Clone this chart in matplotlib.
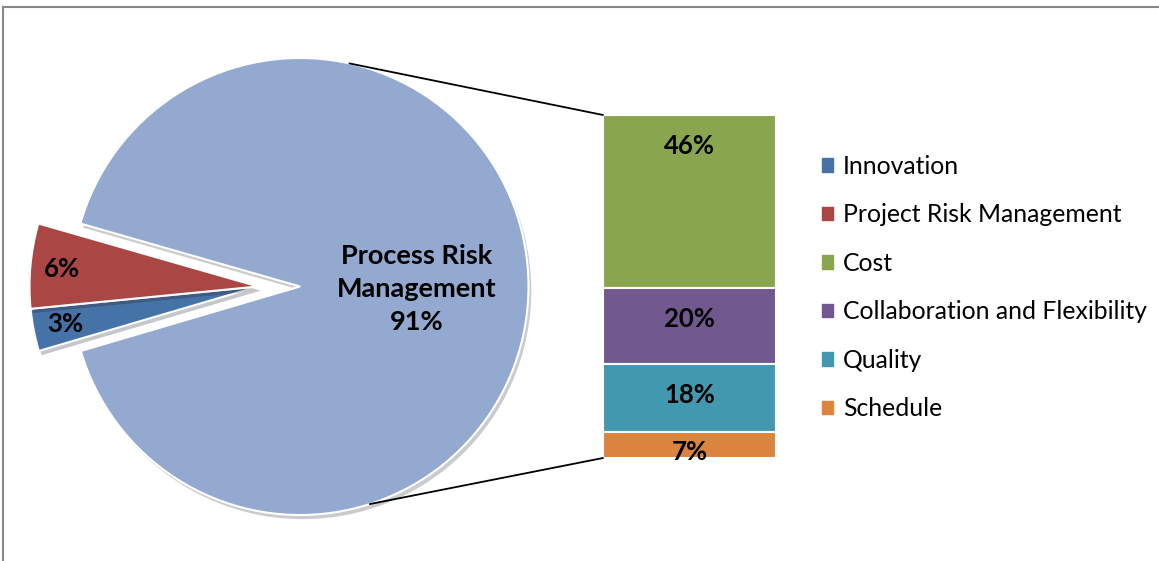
import matplotlib
matplotlib.use("Agg")
import matplotlib.pyplot as plt
import matplotlib.patheffects as pe
from matplotlib.patches import Patch, ConnectionPatch
from matplotlib.lines import Line2D
import numpy as np

# pie data
pie_labels = ["Innovation", "Project Risk Management", "Process Risk Management"]
pie_values = [3, 6, 91]
pie_colors = ["#4572A7", "#AA4643", "#93A9CF"]

# breakdown of process risk management
bar_labels = ["Cost", "Collaboration and Flexibility", "Quality", "Schedule"]
bar_values = [46, 20, 18, 7]
bar_colors = ["#89A54E", "#71588F", "#4198AF", "#DB843D"]

W, H = 1159, 561
plt.rcParams['font.family'] = ['Lato', 'DejaVu Sans']
fig = plt.figure(figsize=(W / 100, H / 100), dpi=100)

ax = fig.add_axes([0, 0, 1, 1])
cx, cy, r = 300, 274.5, 228.5
shadow = [pe.SimplePatchShadow(offset=(2, -3), alpha=0.25), pe.Normal()]

wedges, texts, autotexts = ax.pie(
    pie_values, colors=pie_colors,
    startangle=196.4, counterclock=False, center=(cx, cy), radius=r,
    autopct='%.0f%%', pctdistance=0.86,
    wedgeprops=dict(edgecolor='white', linewidth=1.5),
    textprops=dict(fontsize=18.5, fontweight='bold', color='black'))
# pull the two small slices out together, to the left
shift = 42
for i in [0, 1]:
    wx, wy = wedges[i].center
    wedges[i].set_center((wx - shift, wy))
    tx, ty = autotexts[i].get_position()
    autotexts[i].set_position((tx - shift, ty))
for w in wedges:
    w.set_path_effects(shadow)
autotexts[2].set_text("Process Risk\nManagement\n91%")
autotexts[2].set_position((cx + 0.51 * r, cy - 2))
autotexts[2].set_fontsize(19.5)
autotexts[2].set_linespacing(1.45)
ax.set_xlim(0, W)
ax.set_ylim(0, H)
ax.set_aspect('equal')
ax.axis('off')

# stacked bar
bx = fig.add_axes([603 / W, (H - 458) / H, (776 - 603) / W, 343 / H])
bottom = sum(bar_values)
label_frac = [0.82, 0.6, 0.54, 0.23]
for lab, v, c, f in zip(bar_labels, bar_values, bar_colors, label_frac):
    bottom -= v
    b = bx.bar(0, v, bottom=bottom, width=1, color=c, edgecolor='white', linewidth=1.5)
    b[0].set_path_effects(shadow)
    bx.text(0, bottom + f * v, f"{v}%", ha='center', va='center',
            fontsize=18.5, fontweight='bold')
bx.set_xlim(-0.5, 0.5)
bx.set_ylim(0, sum(bar_values))
bx.axis('off')

# connector lines
for ang, yv in [(77.5, sum(bar_values)), (-72.2, 0)]:
    px = cx + r * np.cos(np.radians(ang))
    py = cy + r * np.sin(np.radians(ang))
    con = ConnectionPatch(xyA=(px, py), coordsA=ax.transData,
                          xyB=(-0.5, yv), coordsB=bx.transData,
                          color='black', linewidth=1.3)
    fig.add_artist(con)

# legend
handles = [Patch(color=pie_colors[i], label=pie_labels[i]) for i in [0, 1]]
handles += [Patch(color=c, label=l) for c, l in zip(bar_colors, bar_labels)]
fig.legend(handles=handles, loc='upper left', bbox_to_anchor=(812 / W, 1 - 145 / H),
           frameon=False, fontsize=17.8, handlelength=0.45, handleheight=0.45,
           handletextpad=0.4, labelspacing=1.03, borderaxespad=0)

# outer border (top and left)
fig.add_artist(Line2D([3 / W, 3 / W], [0, 1 - 7 / H], transform=fig.transFigure,
                      color='#888888', linewidth=1.5))
fig.add_artist(Line2D([3 / W, 1], [1 - 7 / H, 1 - 7 / H], transform=fig.transFigure,
                      color='#888888', linewidth=1.5))

fig.savefig("out.png", dpi=100)
